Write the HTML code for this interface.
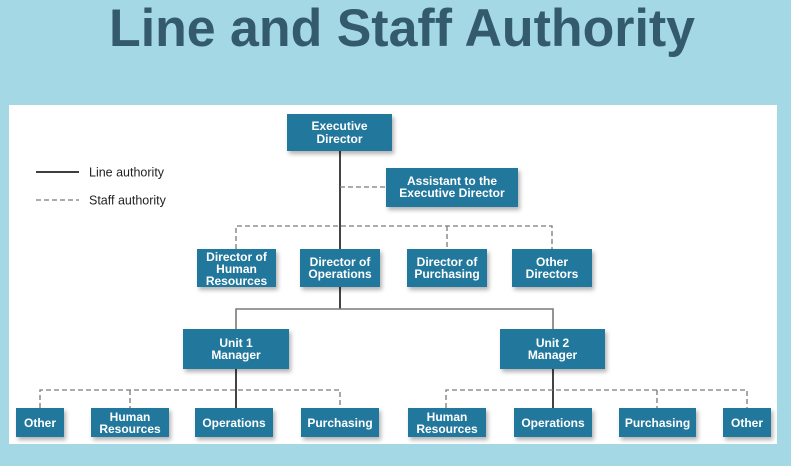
<!DOCTYPE html>
<html><head><meta charset="utf-8"><style>
html,body{margin:0;padding:0;background:#a5d8e5;}
svg{display:block;}
.b{fill:#23789c;filter:url(#sh);}
.t{font-family:"Liberation Sans",Arial,sans-serif;font-weight:bold;font-size:12px;fill:#fff;text-anchor:middle;}
.l{font-family:"Liberation Sans",Arial,sans-serif;font-size:12.5px;fill:#231f20;}
.s{stroke:#222;stroke-width:1.7;fill:none;}
.g{stroke:#7a7a7a;stroke-width:1.6;fill:none;}
.d{stroke:#7a7a7a;stroke-width:1.3;stroke-dasharray:5,3;fill:none;}
</style></head><body>
<svg width="791" height="466" viewBox="0 0 791 466" xmlns="http://www.w3.org/2000/svg">
<defs>
<filter id="sh" x="-20%" y="-20%" width="150%" height="160%">
<feDropShadow dx="2" dy="3" stdDeviation="2.2" flood-color="#000" flood-opacity="0.3"/>
</filter>
</defs>
<rect x="0" y="0" width="791" height="466" fill="#a5d8e5"/>
<text x="109" y="46" textLength="586" lengthAdjust="spacingAndGlyphs" style="font-family:'Liberation Sans',Arial,sans-serif;font-weight:bold;font-size:53px;fill:#345b6d;">Line and Staff Authority</text>
<rect x="9" y="105" width="768" height="339" fill="#fff"/>

<!-- legend -->
<line x1="36" y1="172" x2="79" y2="172" class="s"/>
<text x="89" y="176.5" class="l">Line authority</text>
<line x1="36" y1="200" x2="79" y2="200" class="d"/>
<text x="89" y="204.5" class="l">Staff authority</text>

<!-- connectors -->
<line x1="340" y1="151" x2="340" y2="249" class="s"/>
<line x1="340" y1="187" x2="386" y2="187" class="d"/>
<path d="M236 249 V226 H552 V249" class="d"/>
<line x1="447" y1="226" x2="447" y2="249" class="d"/>
<line x1="340" y1="287" x2="340" y2="309" class="s"/>
<path d="M236 329 V309 H553 V329" class="g"/>
<line x1="236" y1="369" x2="236" y2="408" class="s"/>
<path d="M40 408 V390 H340 V408" class="d"/>
<line x1="130" y1="390" x2="130" y2="408" class="d"/>
<line x1="553" y1="369" x2="553" y2="408" class="s"/>
<path d="M446 408 V390 H747 V408" class="d"/>
<line x1="657" y1="390" x2="657" y2="408" class="d"/>

<!-- boxes -->
<rect class="b" x="287" y="114" width="105" height="37"/>
<text class="t" x="339.5" y="130">Executive</text>
<text class="t" x="339.5" y="143">Director</text>

<rect class="b" x="386" y="168" width="132" height="39"/>
<text class="t" x="452" y="185">Assistant to the</text>
<text class="t" x="452" y="197">Executive Director</text>

<rect class="b" x="197" y="249" width="79" height="38"/>
<text class="t" x="236.5" y="261">Director of</text>
<text class="t" x="236.5" y="273">Human</text>
<text class="t" x="236.5" y="285">Resources</text>

<rect class="b" x="300" y="249" width="80" height="38"/>
<text class="t" x="340" y="266">Director of</text>
<text class="t" x="340" y="278">Operations</text>

<rect class="b" x="407" y="249" width="80" height="38"/>
<text class="t" x="447" y="266">Director of</text>
<text class="t" x="447" y="278">Purchasing</text>

<rect class="b" x="512" y="249" width="80" height="38"/>
<text class="t" x="552" y="266">Other</text>
<text class="t" x="552" y="278">Directors</text>

<rect class="b" x="183" y="329" width="106" height="40"/>
<text class="t" x="236" y="347">Unit 1</text>
<text class="t" x="236" y="359">Manager</text>

<rect class="b" x="500" y="329" width="105" height="40"/>
<text class="t" x="552.5" y="347">Unit 2</text>
<text class="t" x="552.5" y="359">Manager</text>

<rect class="b" x="16" y="408" width="48" height="29"/>
<text class="t" x="40" y="427">Other</text>
<rect class="b" x="91" y="408" width="78" height="29"/>
<text class="t" x="130" y="421">Human</text>
<text class="t" x="130" y="433">Resources</text>
<rect class="b" x="195" y="408" width="78" height="29"/>
<text class="t" x="234" y="427">Operations</text>
<rect class="b" x="301" y="408" width="78" height="29"/>
<text class="t" x="340" y="427">Purchasing</text>

<rect class="b" x="408" y="408" width="78" height="29"/>
<text class="t" x="447" y="421">Human</text>
<text class="t" x="447" y="433">Resources</text>
<rect class="b" x="514" y="408" width="78" height="29"/>
<text class="t" x="553" y="427">Operations</text>
<rect class="b" x="619" y="408" width="77" height="29"/>
<text class="t" x="657.5" y="427">Purchasing</text>
<rect class="b" x="723" y="408" width="48" height="29"/>
<text class="t" x="747" y="427">Other</text>
</svg>
</body></html>
